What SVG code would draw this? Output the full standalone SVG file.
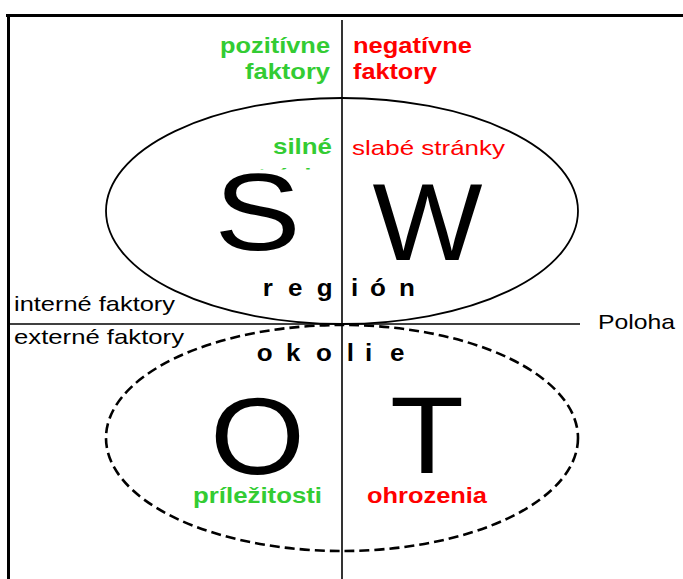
<svg xmlns="http://www.w3.org/2000/svg" width="683" height="579" viewBox="0 0 683 579">
<style>
  text { font-family: "Liberation Sans", Arial, sans-serif; }
  .big { font-size: 110px; fill: #000; text-anchor: middle; }
  .bold { font-weight: bold; font-size: 22px; }
  .reg { font-size: 21px; }
  .g { fill: #33cc33; }
  .r { fill: #ff0000; }
  .k { fill: #000; }
  .sp { font-weight: bold; font-size: 23px; fill: #000; }
  .ln { stroke: #000; fill: none; }
</style>
<defs>
  <clipPath id="cutStr"><rect x="230" y="160" width="110" height="9.5"/></clipPath>
</defs>
<rect width="683" height="579" fill="#fff"/>
<g id="frame">
  <line class="ln" x1="6" y1="15.5" x2="683" y2="15.5" stroke-width="3"/>
  <line class="ln" x1="8.5" y1="14" x2="8.5" y2="579" stroke-width="3"/>
</g>
<g id="connectors">
  <line class="ln" x1="342" y1="20" x2="342" y2="579" stroke-width="1.6"/>
  <line class="ln" x1="9" y1="324" x2="580" y2="324" stroke-width="1.6"/>
</g>
<g id="region-ellipse">
  <ellipse class="ln" cx="342" cy="211" rx="236" ry="113" stroke-width="1.8"/>
</g>
<g id="okolie-ellipse">
  <ellipse class="ln" cx="342" cy="438" rx="236" ry="113" stroke-width="2.6" stroke-dasharray="10 5"/>
</g>
<g id="S">
  <text class="big" font-size="104" transform="translate(257.5,250) scale(1.18,1)">S</text>
  <text class="bold g" x="273" y="154" textLength="59" lengthAdjust="spacingAndGlyphs">silné</text>
  <text class="bold g" x="244" y="184" textLength="88" lengthAdjust="spacingAndGlyphs" clip-path="url(#cutStr)">stránky</text>
</g>
<g id="W">
  <text class="big" font-size="118" transform="translate(427.5,259.5) scale(1.06,1)">W</text>
  <text class="reg r" x="352" y="155" textLength="153" lengthAdjust="spacingAndGlyphs">slabé stránky</text>
</g>
<g id="O">
  <text class="big" font-size="117" transform="translate(257.5,473.5) scale(1.11,1)">O</text>
  <text class="bold g" x="193" y="503" textLength="129" lengthAdjust="spacingAndGlyphs">príležitosti</text>
</g>
<g id="T">
  <text class="big" font-size="117" transform="translate(427,473) scale(1.1,1)">T</text>
  <text class="bold r" x="367" y="503" textLength="120" lengthAdjust="spacingAndGlyphs">ohrozenia</text>
</g>
<g id="headers">
  <text class="bold g" x="220" y="53" textLength="110" lengthAdjust="spacingAndGlyphs">pozitívne</text>
  <text class="bold g" x="245" y="79" textLength="85" lengthAdjust="spacingAndGlyphs">faktory</text>
  <text class="bold r" x="353" y="53" textLength="119" lengthAdjust="spacingAndGlyphs">negatívne</text>
  <text class="bold r" x="353" y="79" textLength="84" lengthAdjust="spacingAndGlyphs">faktory</text>
</g>
<g id="axis-labels">
  <text class="reg k" x="14" y="311" textLength="161" lengthAdjust="spacingAndGlyphs">interné faktory</text>
  <text class="reg k" x="14" y="344" textLength="170" lengthAdjust="spacingAndGlyphs">externé faktory</text>
  <text class="reg k" x="598" y="329" textLength="77" lengthAdjust="spacingAndGlyphs">Poloha</text>
</g>
<g id="region-label">
  <text class="sp" transform="scale(1.13,1)" y="296.5"><tspan x="232.5">r</tspan><tspan x="254.9">e</tspan><tspan x="280.3">g</tspan><tspan x="310.6">i</tspan><tspan x="327.4">ó</tspan><tspan x="353.1">n</tspan></text>
</g>
<g id="okolie-label">
  <text class="sp" transform="scale(1.13,1)" y="361.5"><tspan x="227.2">o</tspan><tspan x="253.1">k</tspan><tspan x="279.6">o</tspan><tspan x="306.8">l</tspan><tspan x="323">i</tspan><tspan x="345.1">e</tspan></text>
</g>
</svg>
